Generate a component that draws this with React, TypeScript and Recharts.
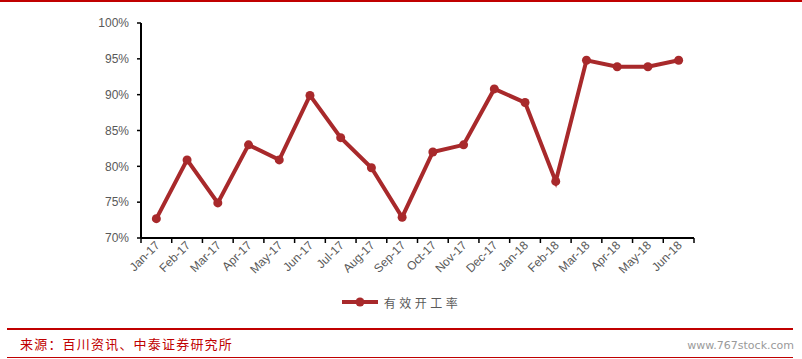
import { LineChart, Line, XAxis, YAxis } from 'recharts'

const months = ['Jan-17', 'Feb-17', 'Mar-17', 'Apr-17', 'May-17', 'Jun-17', 'Jul-17', 'Aug-17', 'Sep-17', 'Oct-17', 'Nov-17', 'Dec-17', 'Jan-18', 'Feb-18', 'Mar-18', 'Apr-18', 'May-18', 'Jun-18']
const utilization = [72.7, 80.9, 74.9, 83, 80.9, 89.9, 84, 79.8, 72.9, 82, 83, 90.8, 88.9, 77.9, 94.8, 93.9, 93.9, 94.8]
const yTicks = [70, 75, 80, 85, 90, 95, 100]
const seriesName = '有效开工率'
const sourceText = '来源：百川资讯、中泰证券研究所'

const data = months.map((m, i) => ({ month: m, value: utilization[i] }))

const LINE = '#a8292b'
const LABEL = '#595959'
const RED = '#c00000'

const PLOT_LEFT = 141
const PLOT_RIGHT = 694
const PLOT_TOP = 23
const PLOT_BOTTOM = 238
const BAND = (PLOT_RIGHT - PLOT_LEFT) / months.length

/* x tick: rotated label + tick mark on the band boundary */
function MonthTick(props: { x?: number; y?: number; index?: number; payload?: { value: string } }) {
  const { x = 0, y = 0, index = 0, payload } = props
  const left = x - BAND / 2
  return (
    <g>
      <line x1={left} x2={left} y1={PLOT_BOTTOM} y2={PLOT_BOTTOM + 5} stroke="#000" strokeWidth={1.5} />
      {index === months.length - 1 && (
        <line x1={x + BAND / 2} x2={x + BAND / 2} y1={PLOT_BOTTOM} y2={PLOT_BOTTOM + 5} stroke="#000" strokeWidth={1.5} />
      )}
      <text
        x={x + 4} y={PLOT_BOTTOM + 8} textAnchor="end" fill={LABEL} fontSize={12}
        fontFamily="'Liberation Sans', Arial, sans-serif"
        transform={`rotate(-45, ${x + 4}, ${PLOT_BOTTOM + 8})`}
      >
        {payload?.value}
      </text>
    </g>
  )
}

export default function App() {
  return (
    <div style={{ position: 'absolute', left: 0, top: 0, width: 802, height: 359, background: '#fff', overflow: 'hidden' }}>
      <div style={{ position: 'absolute', left: 0, top: 0, width: 802, height: 2, background: RED }} />
      <LineChart
        width={802} height={359} data={data}
        margin={{ top: PLOT_TOP, right: 802 - PLOT_RIGHT, left: PLOT_LEFT - 60, bottom: 359 - PLOT_BOTTOM - 50 }}
      >
        <YAxis
          domain={[70, 100]} ticks={yTicks} width={60} tickSize={4} tickMargin={8}
          tickFormatter={(v: number) => `${v}%`}
          axisLine={{ stroke: '#000', strokeWidth: 2 }} tickLine={{ stroke: '#000', strokeWidth: 1.5 }}
          tick={{ fill: LABEL, fontSize: 12, fontFamily: "'Liberation Sans', Arial, sans-serif" }}
        />
        <XAxis
          dataKey="month" height={50} interval={0} tickLine={false}
          padding={{ left: BAND / 2, right: BAND / 2 }}
          axisLine={{ stroke: '#000', strokeWidth: 2 }}
          tick={<MonthTick />}
        />
        <Line
          dataKey="value" name={seriesName} stroke={LINE} strokeWidth={4}
          dot={{ r: 4.5, fill: LINE, stroke: LINE, strokeWidth: 0 }}
          isAnimationActive={false}
        />
      </LineChart>
      <div style={{ position: 'absolute', left: 0, top: 292, width: 802, display: 'flex', alignItems: 'center', justifyContent: 'center', height: 20 }}>
        <svg width={38} height={12}>
          <line x1={1} x2={37} y1={6} y2={6} stroke={LINE} strokeWidth={4} />
          <circle cx={19} cy={6} r={4.5} fill={LINE} />
        </svg>
        <span style={{ marginLeft: 5, color: LABEL, fontSize: 12, letterSpacing: 3.5, fontFamily: "'Noto Sans CJK SC', sans-serif" }}>
          {seriesName}
        </span>
      </div>
      <div style={{ position: 'absolute', left: 7, top: 328, width: 786, height: 2, background: RED }} />
      <div style={{ position: 'absolute', left: 20, top: 334, color: RED, fontSize: 13, letterSpacing: 1.2, fontFamily: "'Noto Sans CJK SC', sans-serif" }}>
        {sourceText}
      </div>
      <div style={{ position: 'absolute', right: 8, top: 339, color: '#9a9a9a', fontSize: 11, fontFamily: "'DejaVu Sans', sans-serif" }}>
        www.767stock.com
      </div>
      <div style={{ position: 'absolute', left: 7, top: 357, width: 786, height: 1, background: RED }} />
    </div>
  )
}
